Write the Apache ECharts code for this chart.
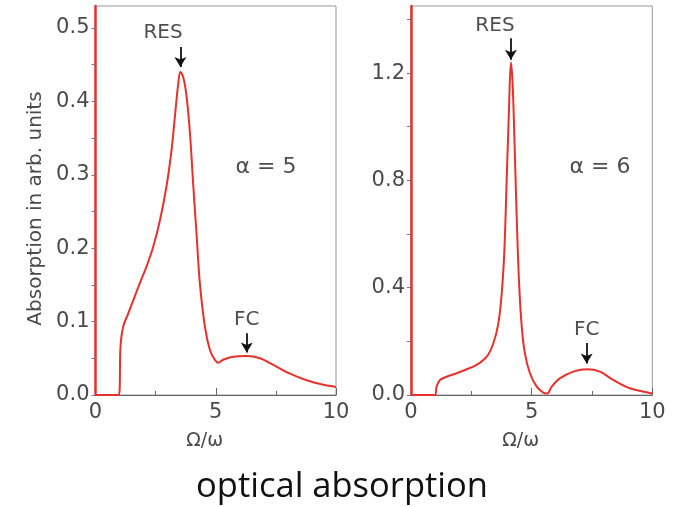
<!DOCTYPE html>
<html>
<head>
<meta charset="utf-8">
<script src="https://cdn.jsdelivr.net/npm/echarts@6/dist/echarts.min.js"></script>
<style>
  html, body { margin: 0; padding: 0; background: #fff; }
  #chart { width: 684px; height: 507px; }
</style>
</head>
<body>
<div id="chart"></div>
<script>
// alpha = 5 panel
const omega5 = [0, 0.97, 1.04, 1.15, 1.36, 1.57, 1.84, 2.12, 2.40, 2.68, 2.95, 3.16, 3.30, 3.44, 3.53, 3.65, 3.79, 3.93, 4.06, 4.20, 4.34, 4.55, 4.76, 4.96, 5.10, 5.31, 5.73, 6.28, 6.84, 7.39, 8.09, 8.78, 9.47, 10]
const absorb5 = [0, 0, 0.066, 0.093, 0.111, 0.129, 0.152, 0.175, 0.202, 0.238, 0.284, 0.333, 0.379, 0.424, 0.440, 0.433, 0.406, 0.356, 0.288, 0.220, 0.152, 0.093, 0.061, 0.048, 0.044, 0.048, 0.052, 0.053, 0.050, 0.041, 0.029, 0.020, 0.014, 0.011]

// alpha = 6 panel
const omega6 = [0, 0.99, 1.06, 1.20, 1.48, 1.89, 2.31, 2.72, 3.14, 3.41, 3.62, 3.76, 3.87, 3.96, 4.06, 4.14, 4.21, 4.28, 4.38, 4.48, 4.59, 4.72, 4.93, 5.21, 5.48, 5.65, 5.83, 6.17, 6.73, 7.28, 7.83, 8.38, 9.07, 10]
const absorb6 = [0, 0, 0.031, 0.056, 0.068, 0.081, 0.096, 0.112, 0.143, 0.192, 0.267, 0.379, 0.540, 0.788, 1.061, 1.240, 1.161, 0.974, 0.664, 0.416, 0.254, 0.155, 0.081, 0.031, 0.009, 0.006, 0.031, 0.062, 0.087, 0.096, 0.087, 0.056, 0.025, 0.006]

// annotations: [text x, text y, arrow x, arrow top, arrow bottom]
const res5 = [2.81, 0.493, 3.53, 0.474, 0.447]
const fc5 = [6.29, 0.102, 6.29, 0.084, 0.058]
const alpha5 = [7.09, 0.310]
const res6 = [3.48, 1.378, 4.14, 1.33, 1.25]
const fc6 = [7.28, 0.242, 7.28, 0.194, 0.117]
const alpha6 = [7.83, 0.849]

const zip = (xs, ys) => xs.map((x, i) => [x, ys[i]])

const RED = '#e8302c'
const GREY = '#4a4a4a'
const FONT = 'DejaVu Sans'

const xAxisFor = (i) => ({
  type: 'value',
  gridIndex: i,
  min: 0,
  max: 10,
  interval: 5,
  name: 'Ω/ω',
  nameLocation: 'middle',
  nameGap: 37,
  nameTextStyle: { color: GREY, fontFamily: FONT, fontSize: 19, padding: [0, 22, 0, 0] },
  axisLine: { lineStyle: { color: '#666', width: 1 } },
  axisTick: { inside: true, length: 7, lineStyle: { color: '#666' } },
  minorTick: { show: true, splitNumber: 2, length: 4, lineStyle: { color: '#666' } },
  axisLabel: { color: GREY, fontFamily: FONT, fontSize: 21, margin: 7 },
  splitLine: { show: false }
})

const yAxisFor = (i, max, step, labelStep, name) => ({
  type: 'value',
  gridIndex: i,
  min: 0,
  max: max,
  interval: step,
  name: name,
  nameLocation: 'middle',
  nameGap: 50,
  nameTextStyle: { color: GREY, fontFamily: FONT, fontSize: 20, padding: [0, 16, 0, 0] },
  axisLine: { show: true, lineStyle: { color: RED, width: 2.5 } },
  axisTick: { length: 4, lineStyle: { color: '#777' } },
  axisLabel: {
    color: GREY, fontFamily: FONT, fontSize: 21, margin: 6,
    showMaxLabel: false,
    formatter: v => {
      const k = v / labelStep
      return Math.abs(k - Math.round(k)) < 1e-6 ? v.toFixed(1) : ''
    }
  },
  splitLine: { show: false }
})

const textSeries = (i, items) => ({
  type: 'scatter',
  xAxisIndex: i,
  yAxisIndex: i,
  symbolSize: 1,
  itemStyle: { color: 'rgba(0,0,0,0)' },
  silent: true,
  label: {
    show: true,
    position: 'inside',
    formatter: p => p.name.startsWith('α') ? '{a|' + p.name + '}' : p.name,
    color: '#222',
    fontFamily: FONT,
    fontSize: 20,
    rich: { a: { color: '#222', fontFamily: FONT, fontSize: 22 } }
  },
  data: items.map(t => ({ name: t[0], value: [t[1], t[2]] }))
})

const arrowLines = (arrows) => ({
  silent: true,
  symbol: ['none', 'arrow'],
  symbolSize: [9, 10],
  lineStyle: { color: '#111', width: 1.8, type: 'solid' },
  label: { show: false },
  data: arrows.map(a => [{ coord: [a[2], a[3]] }, { coord: [a[2], a[4]] }])
})

const curveSeries = (i, data, arrows) => ({
  type: 'line',
  xAxisIndex: i,
  yAxisIndex: i,
  data: data,
  smooth: 0.35,
  symbol: 'none',
  lineStyle: { color: RED, width: 2 },
  markLine: arrowLines(arrows)
})

const chart = echarts.init(document.getElementById('chart'))
chart.setOption({
  animation: false,
  title: {
    text: 'optical absorption',
    left: 'center',
    top: 465,
    textStyle: { color: '#111', fontFamily: 'Open Sans', fontSize: 34.5, fontWeight: 'normal' }
  },
  grid: [
    { left: 95.5, top: 6, width: 240.5, height: 389, show: true, borderColor: '#999', borderWidth: 1 },
    { left: 411, top: 6, width: 241.3, height: 389, show: true, borderColor: '#999', borderWidth: 1 }
  ],
  xAxis: [xAxisFor(0), xAxisFor(1)],
  yAxis: [
    yAxisFor(0, 0.53, 0.05, 0.1, 'Absorption in arb. units'),
    yAxisFor(1, 1.45, 0.2, 0.4, '')
  ],
  series: [
    curveSeries(0, zip(omega5, absorb5), [res5, fc5]),
    curveSeries(1, zip(omega6, absorb6), [res6, fc6]),
    textSeries(0, [['RES', res5[0], res5[1]], ['FC', fc5[0], fc5[1]], ['α = 5', alpha5[0], alpha5[1]]]),
    textSeries(1, [['RES', res6[0], res6[1]], ['FC', fc6[0], fc6[1]], ['α = 6', alpha6[0], alpha6[1]]])
  ]
})
</script>
</body>
</html>
